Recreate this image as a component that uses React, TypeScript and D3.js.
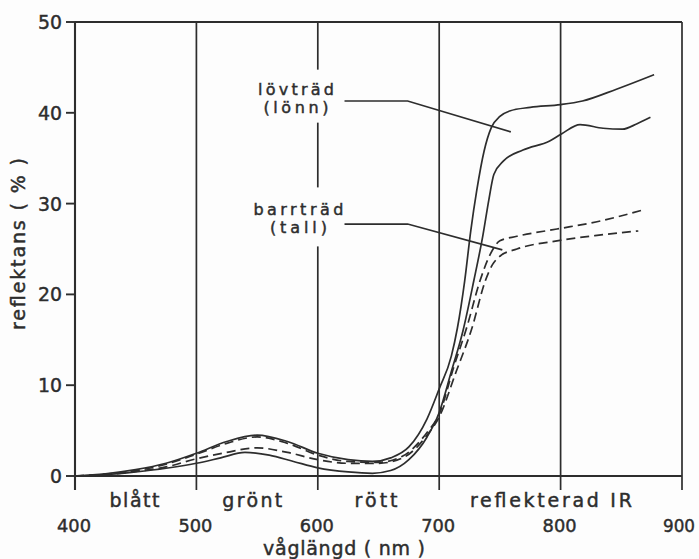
import React from "react";
import * as d3 from "d3";

const W = 699;
const H = 559;

// axes
const xTicks = [400, 500, 600, 700, 800, 900];
const yTicks = [0, 10, 20, 30, 40, 50];
const bandNames = ["blått", "grönt", "rött", "reflekterad IR"];
const bandCenters = [449, 546, 648, 792];

// reflektans (%) per våglängd (nm)
const lovtrad1: [number, number][] = [
  [400, 0], [425, 0.25], [450, 0.7], [475, 1.4], [500, 2.5], [525, 3.8], [550, 4.5],
  [575, 3.8], [600, 2.5], [625, 1.8], [645, 1.6], [660, 2.0], [675, 3.2], [690, 6.3],
  [700, 9.6], [710, 13.2], [715, 16.3], [721, 21.5], [726, 27], [731, 31.5], [737, 35.8],
  [743, 38.4], [750, 39.6], [758, 40.2], [775, 40.6], [800, 40.9], [818, 41.3],
  [846, 42.6], [877, 44.2],
];
const lovtrad2: [number, number][] = [
  [400, 0], [425, 0.15], [450, 0.45], [475, 0.85], [500, 1.4], [520, 2.0], [540, 2.6],
  [560, 2.3], [580, 1.6], [600, 0.9], [625, 0.45], [645, 0.3], [660, 0.6], [675, 1.8],
  [690, 4.3], [700, 7.0], [710, 11.5], [719.6, 16], [728.5, 21.5], [736, 26.5], [741, 30.5],
  [745, 33.2], [753, 34.7], [769, 35.9], [791, 36.9], [801, 37.7], [816, 38.7],
  [835, 38.3], [851, 38.2], [863, 38.8], [874, 39.5],
];
const barrtrad1: [number, number][] = [
  [400, 0], [425, 0.2], [450, 0.6], [475, 1.3], [500, 2.4], [525, 3.6], [550, 4.3],
  [575, 3.6], [600, 2.3], [625, 1.6], [650, 1.5], [670, 2.2], [690, 4.8], [700, 6.8],
  [712, 12], [723, 16.5], [733.6, 21.5], [742, 24.4], [750, 25.9], [764, 26.4],
  [797, 27.2], [830, 28], [868, 29.3],
];
const barrtrad2: [number, number][] = [
  [400, 0], [425, 0.15], [450, 0.5], [475, 1.0], [500, 1.9], [525, 2.6], [550, 3.1],
  [575, 2.6], [600, 1.8], [625, 1.4], [650, 1.4], [670, 2.0], [690, 4.5], [700, 6.5],
  [714, 11.5], [727, 16.3], [738, 21.5], [744, 23.3], [750, 24.2], [764, 25.0],
  [797, 25.9], [830, 26.5], [864, 27.0],
];

const ink = "#2d2d2d";
const bg = "#fdfdfd";
const font = "DejaVu Sans, Verdana, sans-serif";

const annotations = [
  {
    lines: ["lövträd", "(lönn)"],
    widths: [76, 65],
    at: [582, 42.0],
    leader: [[622, 41.3], [674, 41.3], [759, 37.9]] as [number, number][],
    box: [-25, 53],
  },
  {
    lines: ["barrträd", "(tall)"],
    widths: [90, 57],
    at: [584, 28.7],
    leader: [[622, 27.75], [674, 27.75], [752, 24.9]] as [number, number][],
    box: [-28, 59],
  },
];

// text with a thin outline so it looks as heavy as the lettering in the source
const T = (props: any) => (
  <text fill={ink} stroke={ink} strokeWidth={0.45} fontSize={19} {...props} />
);

export default function App() {
  const x = d3.scaleLinear().domain([400, 900]).range([75, 682]);
  const y = d3.scaleLinear().domain([0, 50]).range([476, 22]);

  const line = d3
    .line<[number, number]>()
    .x((d) => x(d[0]))
    .y((d) => y(d[1]))
    .curve(d3.curveMonotoneX);
  const straight = d3
    .line<[number, number]>()
    .x((d) => x(d[0]))
    .y((d) => y(d[1]));

  return (
    <svg
      width={W}
      height={H}
      style={{ position: "absolute", left: 0, top: 0, background: bg }}
      fontFamily={font}
    >
      {/* grid and frame */}
      {xTicks.map((t) => (
        <line key={t} x1={x(t)} x2={x(t)} y1={y(50)} y2={y(0) + 14} stroke={ink} strokeWidth={1.7} />
      ))}
      <line x1={x(400)} x2={x(900)} y1={y(50)} y2={y(50)} stroke={ink} strokeWidth={1.9} />
      <line x1={x(400)} x2={x(900)} y1={y(0)} y2={y(0)} stroke={ink} strokeWidth={2.1} />
      <line x1={x(400)} x2={x(400)} y1={y(50)} y2={y(0) + 14} stroke={ink} strokeWidth={2.1} />

      {/* y ticks */}
      {yTicks.map((t) => (
        <g key={t}>
          <line x1={x(400) - 9} x2={x(400)} y1={y(t)} y2={y(t)} stroke={ink} strokeWidth={1.9} />
          <T
            x={62}
            y={y(t) + 7}
            fontSize={20}
            textAnchor="end"
            textLength={t === 0 ? 12 : 24}
            lengthAdjust="spacingAndGlyphs"
          >
            {t}
          </T>
        </g>
      ))}

      {/* x tick labels */}
      {xTicks.map((t) => (
        <T
          key={t}
          x={t === 900 ? x(t) - 3 : x(t) - 1}
          y={532}
          fontSize={18}
          textAnchor="middle"
          textLength={t === 900 ? 32 : 34}
          lengthAdjust="spacingAndGlyphs"
        >
          {t}
        </T>
      ))}

      {/* band names */}
      {bandNames.map((b, i) => (
        <T
          key={b}
          x={x(bandCenters[i])}
          y={507}
          textAnchor="middle"
          textLength={[50, 60, 43, 162][i]}
          lengthAdjust="spacing"
        >
          {b}
        </T>
      ))}

      {/* axis titles */}
      <T x={344} y={555} textAnchor="middle" textLength={162} lengthAdjust="spacing">
        våglängd ( nm )
      </T>
      <T
        transform={`translate(25,244) rotate(-90)`}
        textAnchor="middle"
        textLength={172}
        lengthAdjust="spacing"
      >
        reflektans ( % )
      </T>

      {/* label boxes hide the grid behind the labels */}
      {annotations.map((a, i) => (
        <rect
          key={i}
          x={x(a.at[0]) - 44}
          y={y(a.at[1]) + a.box[0]}
          width={88}
          height={a.box[1]}
          fill={bg}
        />
      ))}

      {/* curves */}
      {[lovtrad1, lovtrad2].map((s, i) => (
        <path key={"l" + i} d={line(s) ?? ""} fill="none" stroke={ink} strokeWidth={1.7} />
      ))}
      {[barrtrad1, barrtrad2].map((s, i) => (
        <path
          key={"b" + i}
          d={line(s) ?? ""}
          fill="none"
          stroke={ink}
          strokeWidth={1.7}
          strokeDasharray="9 5"
        />
      ))}

      {/* annotations */}
      {annotations.map((a, i) => (
        <g key={"a" + i}>
          {a.lines.map((l, j) => (
            <T
              key={l}
              x={x(a.at[0])}
              y={y(a.at[1]) + j * 18}
              fontSize={16}
              textAnchor="middle"
              textLength={a.widths[j]}
              lengthAdjust="spacing"
            >
              {l}
            </T>
          ))}
          <path d={straight(a.leader) ?? ""} fill="none" stroke={ink} strokeWidth={1.7} />
        </g>
      ))}
    </svg>
  );
}
